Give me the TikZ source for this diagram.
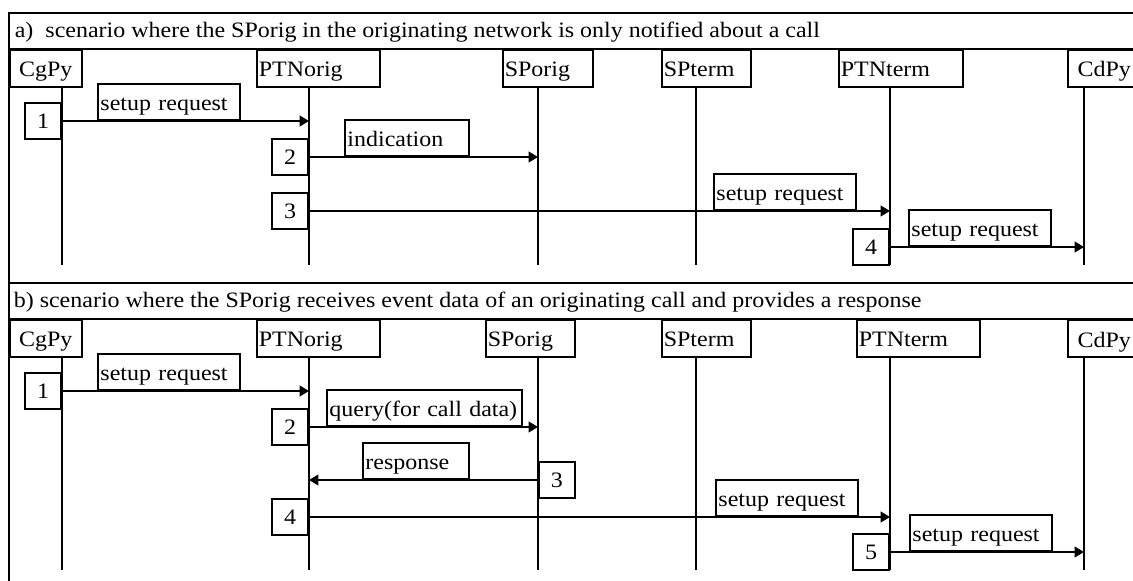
\documentclass[tikz,border=0pt]{standalone}
\usepackage{fontspec}
\setmainfont{Liberation Serif}[FakeStretch=1.09]
\usepackage{tikz}
\usetikzlibrary{arrows.meta}
\tikzset{>={Triangle[length=7pt,width=8pt]}}
\tikzset{
	hdr/.style={draw, anchor=north west, minimum height=27.75pt, text width=#1, align=left,
		inner xsep=1.5pt, inner ysep=1pt, text height=16.5pt, text depth=4pt},
	lbl/.style={draw, anchor=south west, minimum height=27pt, text width=#1, align=left,
		inner xsep=2pt, inner ysep=1pt, text height=17pt, text depth=4pt},
	num/.style={draw, minimum size=27pt, inner sep=0pt}
}

\begin{document}
\begin{tikzpicture}[x=0.75pt, y=-0.75pt, line width=1.2pt, font=\fontsize{16.5}{19}\selectfont]
			\useasboundingbox (0,0) rectangle (1133,581);
			% frame
			\draw [line width=1.5pt] (1133,13) -- (9,13) -- (9,581);
			\draw [line width=1pt] (9,49) -- (1133,49);
			\draw [line width=1.3pt] (9,283) -- (1133,283);
			\draw [line width=1pt] (9,319) -- (1133,319);
			\node [anchor=base west, inner sep=0pt] (atitle) at (14,38) {a)\ \ scenario where the SPorig in the originating network is only notified about a call};
			\node [anchor=base west, inner sep=0pt] (btitle) at (13,308) {b) scenario where the SPorig receives event data of an originating call and provides a response};
			% a) lanes
			\node [hdr=51pt, align=center] (a-cgbox) at (9,49) {CgPy};
			\node [hdr=89.25pt] (a-ptnobox) at (256,49) {PTNorig};
			\node [hdr=64.5pt] (a-spobox) at (502,49) {SPorig};
			\node [hdr=63.75pt] (a-sptbox) at (661,49) {SPterm};
			\node [hdr=90pt] (a-ptntbox) at (838,49) {PTNterm};
			\node [hdr=51.75pt, align=center] (a-cdbox) at (1067,49) {CdPy};
			\foreach \n/\x in {cg/62, ptno/309, spo/538, spt/696, ptnt/890, cd/1084} {
				\coordinate (a-\n) at (\x,86);
				\coordinate (a-\n-end) at (\x,265);
				\draw (a-\n) -- (a-\n-end);
			}
			% a) messages
			\node [num, anchor=east] (a-n1) at (62,121) {1};
			\draw [->] (a-n1.east) -- (a-ptno |- a-n1.east);
			\node [lbl=102.5pt] (a-m1) at (97,121) {setup request};
			\node [num, anchor=east] (a-n2) at (309,157) {2};
			\draw [->] (a-n2.east) -- (a-spo |- a-n2.east);
			\node [lbl=89pt] (a-m2) at (344,157) {indication};
			\node [num, anchor=east] (a-n3) at (309,211) {3};
			\draw [->] (a-n3.east) -- (a-ptnt |- a-n3.east);
			\node [lbl=102.5pt] (a-m3) at (713,211) {setup request};
			\node [num, anchor=east] (a-n4) at (890,247) {4};
			\draw [->] (a-n4.east) -- (a-cd |- a-n4.east);
			\node [lbl=102.5pt] (a-m4) at (908,247) {setup request};
			% b) lanes
			\node [hdr=51pt, align=center] (b-cgbox) at (9,319) {CgPy};
			\node [hdr=89.25pt] (b-ptnobox) at (256,319) {PTNorig};
			\node [hdr=63.75pt] (b-spobox) at (485,319) {SPorig};
			\node [hdr=63.75pt] (b-sptbox) at (661,319) {SPterm};
			\node [hdr=89.25pt] (b-ptntbox) at (856,319) {PTNterm};
			\node [hdr=51.75pt, align=center, text height=18pt] (b-cdbox) at (1067,319) {CdPy};
			\foreach \n/\x in {cg/62, ptno/309, spo/538, spt/696, ptnt/890, cd/1084} {
				\coordinate (b-\n) at (\x,356);
				\coordinate (b-\n-end) at (\x,570);
				\draw (b-\n) -- (b-\n-end);
			}
			% b) messages
			\node [num, anchor=east] (b-n1) at (62,391) {1};
			\draw [->] (b-n1.east) -- (b-ptno |- b-n1.east);
			\node [lbl=102.5pt] (b-m1) at (97,391) {setup request};
			\node [num, anchor=east] (b-n2) at (309,427) {2};
			\draw [->] (b-n2.east) -- (b-spo |- b-n2.east);
			\node [lbl=142.25pt] (b-m2) at (326,427) {query(for call data)};
			\node [num, anchor=west] (b-n3) at (538,480) {3};
			\draw [->] (b-n3.west) -- (b-ptno |- b-n3.west);
			\node [lbl=75.5pt] (b-m3) at (362,480) {response};
			\node [num, anchor=east] (b-n4) at (309,517) {4};
			\draw [->] (b-n4.east) -- (b-ptnt |- b-n4.east);
			\node [lbl=102.5pt] (b-m4) at (715,517) {setup request};
			\node [num, anchor=east] (b-n5) at (890,552) {5};
			\draw [->] (b-n5.east) -- (b-cd |- b-n5.east);
			\node [lbl=102.5pt] (b-m5) at (909,552) {setup request};
		\end{tikzpicture}
\end{document}
